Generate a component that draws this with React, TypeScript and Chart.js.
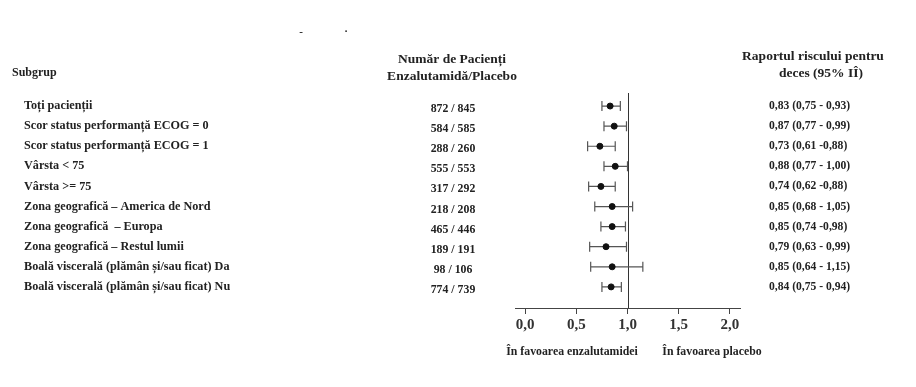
import React, { useEffect, useRef } from "react";
import { Chart, registerables } from "chart.js";

Chart.register(...registerables);

const subgroups = [
  "Toți pacienții",
  "Scor status performanță ECOG = 0",
  "Scor status performanță ECOG = 1",
  "Vârsta < 75",
  "Vârsta >= 75",
  "Zona geografică – America de Nord",
  "Zona geografică  – Europa",
  "Zona geografică – Restul lumii",
  "Boală viscerală (plămân și/sau ficat) Da",
  "Boală viscerală (plămân și/sau ficat) Nu",
];
const patients = [
  "872 / 845",
  "584 / 585",
  "288 / 260",
  "555 / 553",
  "317 / 292",
  "218 / 208",
  "465 / 446",
  "189 / 191",
  "98 / 106",
  "774 / 739",
];
const hr = [0.83, 0.87, 0.73, 0.88, 0.74, 0.85, 0.85, 0.79, 0.85, 0.84];
const ciLow = [0.75, 0.77, 0.61, 0.77, 0.62, 0.68, 0.74, 0.63, 0.64, 0.75];
const ciHigh = [0.93, 0.99, 0.88, 1.0, 0.88, 1.05, 0.98, 0.99, 1.15, 0.94];
const hrLabels = [
  "0,83 (0,75 - 0,93)",
  "0,87 (0,77 - 0,99)",
  "0,73 (0,61 -0,88)",
  "0,88 (0,77 - 1,00)",
  "0,74 (0,62 -0,88)",
  "0,85 (0,68 - 1,05)",
  "0,85 (0,74 -0,98)",
  "0,79 (0,63 - 0,99)",
  "0,85 (0,64 - 1,15)",
  "0,84 (0,75 - 0,94)",
];
const xTicks = [0, 0.5, 1, 1.5, 2];
const refValue = 1;

const FONT = '"Liberation Serif", "Times New Roman", serif';

const forestPlugin = {
  id: "forest",
  beforeDatasetsDraw(chart: any) {
    const { ctx, chartArea, scales } = chart;
    const xs = scales.x;
    const ys = scales.y;
    ctx.save();
    const rx = Math.round(xs.getPixelForValue(refValue)) + 0.5;
    ctx.strokeStyle = "#333";
    ctx.lineWidth = 1;
    ctx.beginPath();
    ctx.moveTo(rx, chartArea.top);
    ctx.lineTo(rx, chartArea.bottom);
    ctx.stroke();
    ctx.strokeStyle = "#555";
    ctx.lineWidth = 1.2;
    for (let i = 0; i < hr.length; i++) {
      const y = ys.getPixelForValue(i);
      const x1 = xs.getPixelForValue(ciLow[i]);
      const x2 = xs.getPixelForValue(ciHigh[i]);
      ctx.beginPath();
      ctx.moveTo(x1, y);
      ctx.lineTo(x2, y);
      ctx.moveTo(x1, y - 5);
      ctx.lineTo(x1, y + 5);
      ctx.moveTo(x2, y - 5);
      ctx.lineTo(x2, y + 5);
      ctx.stroke();
    }
    ctx.restore();
  },
  afterDraw(chart: any) {
    const { ctx, scales } = chart;
    const ys = scales.y;
    ctx.save();
    ctx.fillStyle = "#222";
    ctx.textBaseline = "middle";
    ctx.font = `bold 12px ${FONT}`;
    ctx.textAlign = "left";
    ctx.fillText("Subgrup", 12, 73);
    ctx.font = `bold 13.5px ${FONT}`;
    ctx.textAlign = "center";
    ctx.fillText("Număr de Pacienți", 452, 60);
    ctx.fillText("Enzalutamidă/Placebo", 452, 77);
    ctx.fillText("Raportul riscului pentru", 813, 57);
    ctx.fillText("deces (95% IÎ)", 821, 74);
    ctx.font = `bold 11px ${FONT}`;
    ctx.fillText("-", 301, 32);
    ctx.fillText("·", 346, 32);
    for (let i = 0; i < subgroups.length; i++) {
      const y = ys.getPixelForValue(i);
      ctx.font = `bold 12.2px ${FONT}`;
      ctx.textAlign = "left";
      ctx.fillText(subgroups[i], 24, y);
      ctx.font = `bold 11.8px ${FONT}`;
      ctx.textAlign = "center";
      ctx.fillText(patients[i], 453, y + 3);
      ctx.font = `bold 11.6px ${FONT}`;
      ctx.textAlign = "left";
      ctx.fillText(hrLabels[i], 769, y);
    }
    ctx.font = `bold 11.8px ${FONT}`;
    ctx.textAlign = "center";
    ctx.fillText("În favoarea enzalutamidei", 572, 352);
    ctx.fillText("În favoarea placebo", 712, 352);
    ctx.restore();
  },
};

export default function App() {
  const ref = useRef<HTMLCanvasElement>(null);
  useEffect(() => {
    if (!ref.current) return;
    const chart = new Chart(ref.current, {
      type: "scatter",
      data: {
        datasets: [
          {
            data: hr.map((v, i) => ({ x: v, y: i })),
            backgroundColor: "#111",
            borderColor: "#111",
            pointRadius: 3,
          },
        ],
      },
      options: {
        animation: false,
        responsive: true,
        maintainAspectRatio: false,
        devicePixelRatio: 1,
        layout: { padding: { left: 515, right: 176, top: 93, bottom: 49 } },
        plugins: { legend: { display: false }, tooltip: { enabled: false } },
        scales: {
          x: {
            type: "linear",
            min: -0.1,
            max: 2.1,
            afterBuildTicks: (s: any) => {
              s.ticks = xTicks.map((v) => ({ value: v }));
            },
            afterFit: (s: any) => {
              s.height = 30;
            },
            ticks: {
              callback: (v: any) => Number(v).toFixed(1).replace(".", ","),
              font: { family: FONT, size: 15, weight: "bold" },
              color: "#333",
              padding: 2,
              maxRotation: 0,
            },
            grid: {
              drawOnChartArea: false,
              drawTicks: true,
              tickLength: 6,
              color: "#444",
            },
            border: { display: true, color: "#444", width: 1 },
          },
          y: {
            type: "linear",
            display: false,
            reverse: true,
            min: -0.65,
            max: 10.05,
          },
        },
      },
      plugins: [forestPlugin],
    });
    return () => chart.destroy();
  }, []);
  return (
    <div style={{ position: "absolute", left: 0, top: 0, width: 916, height: 387, background: "#fff" }}>
      <canvas ref={ref} />
    </div>
  );
}
